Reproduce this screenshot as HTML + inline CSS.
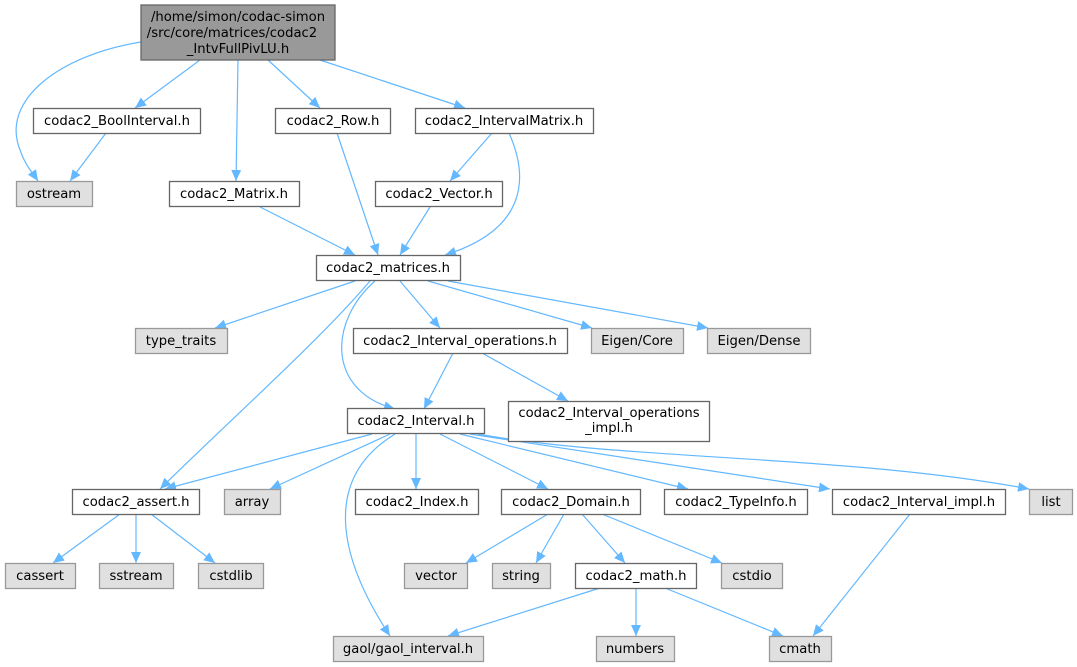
<!DOCTYPE html>
<html><head><meta charset="utf-8"><style>
html,body{margin:0;padding:0;background:#fff;}
svg{display:block;}
text{font-family:"DejaVu Sans","Liberation Sans",sans-serif;font-size:13.2px;fill:#000;}
.n rect{fill:#fff;stroke:#666;stroke-width:1.3;}
.g rect{fill:#e0e0e0;stroke:#999;stroke-width:1.3;}
.e{fill:none;stroke:#63b8ff;stroke-width:1.2;}
</style></head><body>
<svg width="1077" height="667" viewBox="0 0 1077 667" xmlns="http://www.w3.org/2000/svg">
<defs><marker id="a" viewBox="0 0 10 10" refX="10" refY="5" markerWidth="11" markerHeight="11" markerUnits="userSpaceOnUse" orient="auto"><path d="M0,0.5 L10,5 L0,9.5 z" fill="#63b8ff"/></marker></defs>
<g marker-end="url(#a)">
<path class="e" d="M141,42 C60,55 0,100 20,150 C25,165 32,172 38,181"/>
<path class="e" d="M200,60 L135,108"/>
<path class="e" d="M238,60 L236,181"/>
<path class="e" d="M268,60 L320,108"/>
<path class="e" d="M320,60 L465,108"/>
<path class="e" d="M106,133 L70,181"/>
<path class="e" d="M260,207 L355,255"/>
<path class="e" d="M337,133 L378,255"/>
<path class="e" d="M492,133 L450,181"/>
<path class="e" d="M509,133 C530,180 525,230 445,255"/>
<path class="e" d="M430,207 L400,255"/>
<path class="e" d="M355,281 L215,328"/>
<path class="e" d="M400,281 L440,328"/>
<path class="e" d="M428,281 L592,328"/>
<path class="e" d="M448,281 L708,328"/>
<path class="e" d="M375,281 C330,320 325,390 395,409"/>
<path class="e" d="M370,281 C320,340 230,420 160,489"/>
<path class="e" d="M453,353 L424,409"/>
<path class="e" d="M482,353 L568,401"/>
<path class="e" d="M372,434 L165,489"/>
<path class="e" d="M390,434 L270,489"/>
<path class="e" d="M395,434 C320,480 340,560 390,636"/>
<path class="e" d="M416,434 L416,489"/>
<path class="e" d="M440,434 L548,489"/>
<path class="e" d="M460,434 L688,489"/>
<path class="e" d="M470,434 L830,489"/>
<path class="e" d="M478,434 C620,460 850,455 1029,489"/>
<path class="e" d="M120,514 L53,563"/>
<path class="e" d="M136,514 L136,563"/>
<path class="e" d="M151,514 L215,563"/>
<path class="e" d="M548,514 L466,563"/>
<path class="e" d="M564,514 L536,563"/>
<path class="e" d="M582,514 L625,563"/>
<path class="e" d="M602,514 L722,563"/>
<path class="e" d="M600,588 L448,636"/>
<path class="e" d="M636,588 L636,636"/>
<path class="e" d="M665,588 L783,636"/>
<path class="e" d="M910,514 L813,636"/>
</g>
<g class="g" transform="translate(141,5)"><rect x="0" y="0" width="194" height="55" style="fill:#999;stroke:#666"/><text x="97" y="16" text-anchor="middle">/home/simon/codac-simon</text><text x="91" y="32" text-anchor="middle">/src/core/matrices/codac2</text><text x="97" y="48" text-anchor="middle">_IntvFullPivLU.h</text></g>
<g class="n"><rect x="33.5" y="108.5" width="167" height="25"/><text x="117" y="125" text-anchor="middle">codac2_BoolInterval.h</text></g>
<g class="g"><rect x="16.5" y="181.5" width="76" height="25"/><text x="54" y="198" text-anchor="middle">ostream</text></g>
<g class="n"><rect x="169.5" y="181.5" width="130" height="25"/><text x="234" y="198" text-anchor="middle">codac2_Matrix.h</text></g>
<g class="n"><rect x="275.5" y="108.5" width="115" height="25"/><text x="333" y="125" text-anchor="middle">codac2_Row.h</text></g>
<g class="n"><rect x="415.5" y="108.5" width="178" height="25"/><text x="504" y="125" text-anchor="middle">codac2_IntervalMatrix.h</text></g>
<g class="n"><rect x="375.5" y="181.5" width="127" height="25"/><text x="439" y="198" text-anchor="middle">codac2_Vector.h</text></g>
<g class="n"><rect x="316.5" y="255.5" width="144" height="25"/><text x="388" y="272" text-anchor="middle">codac2_matrices.h</text></g>
<g class="g"><rect x="135.5" y="328.5" width="92" height="25"/><text x="181" y="345" text-anchor="middle">type_traits</text></g>
<g class="n"><rect x="353.5" y="328.5" width="214" height="25"/><text x="460" y="345" text-anchor="middle">codac2_Interval_operations.h</text></g>
<g class="g"><rect x="591.5" y="328.5" width="92" height="25"/><text x="637" y="345" text-anchor="middle">Eigen/Core</text></g>
<g class="g"><rect x="707.5" y="328.5" width="103" height="25"/><text x="759" y="345" text-anchor="middle">Eigen/Dense</text></g>
<g class="n"><rect x="347.5" y="408.5" width="137" height="25"/><text x="416" y="425" text-anchor="middle">codac2_Interval.h</text></g>
<g class="n"><rect x="508.5" y="401.5" width="201" height="40"/><text x="609" y="417" text-anchor="middle">codac2_Interval_operations</text><text x="609" y="432" text-anchor="middle">_impl.h</text></g>
<g class="n"><rect x="72.5" y="489.5" width="127" height="25"/><text x="136" y="506" text-anchor="middle">codac2_assert.h</text></g>
<g class="g"><rect x="224.5" y="489.5" width="56" height="25"/><text x="252" y="506" text-anchor="middle">array</text></g>
<g class="n"><rect x="355.5" y="489.5" width="123" height="25"/><text x="417" y="506" text-anchor="middle">codac2_Index.h</text></g>
<g class="n"><rect x="501.5" y="489.5" width="139" height="25"/><text x="571" y="506" text-anchor="middle">codac2_Domain.h</text></g>
<g class="n"><rect x="664.5" y="489.5" width="143" height="25"/><text x="736" y="506" text-anchor="middle">codac2_TypeInfo.h</text></g>
<g class="n"><rect x="832.5" y="489.5" width="173" height="25"/><text x="919" y="506" text-anchor="middle">codac2_Interval_impl.h</text></g>
<g class="g"><rect x="1029.5" y="489.5" width="43" height="25"/><text x="1051" y="506" text-anchor="middle">list</text></g>
<g class="g"><rect x="5.5" y="563.5" width="70" height="25"/><text x="40" y="580" text-anchor="middle">cassert</text></g>
<g class="g"><rect x="99.5" y="563.5" width="74" height="25"/><text x="136" y="580" text-anchor="middle">sstream</text></g>
<g class="g"><rect x="198.5" y="563.5" width="65" height="25"/><text x="231" y="580" text-anchor="middle">cstdlib</text></g>
<g class="g"><rect x="404.5" y="563.5" width="63" height="25"/><text x="436" y="580" text-anchor="middle">vector</text></g>
<g class="g"><rect x="492.5" y="563.5" width="58" height="25"/><text x="521" y="580" text-anchor="middle">string</text></g>
<g class="n"><rect x="575.5" y="563.5" width="121" height="25"/><text x="636" y="580" text-anchor="middle">codac2_math.h</text></g>
<g class="g"><rect x="721.5" y="563.5" width="61" height="25"/><text x="752" y="580" text-anchor="middle">cstdio</text></g>
<g class="g"><rect x="333.5" y="636.5" width="150" height="25"/><text x="408" y="653" text-anchor="middle">gaol/gaol_interval.h</text></g>
<g class="g"><rect x="596.5" y="636.5" width="78" height="25"/><text x="635" y="653" text-anchor="middle">numbers</text></g>
<g class="g"><rect x="769.5" y="636.5" width="62" height="25"/><text x="800" y="653" text-anchor="middle">cmath</text></g>
</svg>
</body></html>
